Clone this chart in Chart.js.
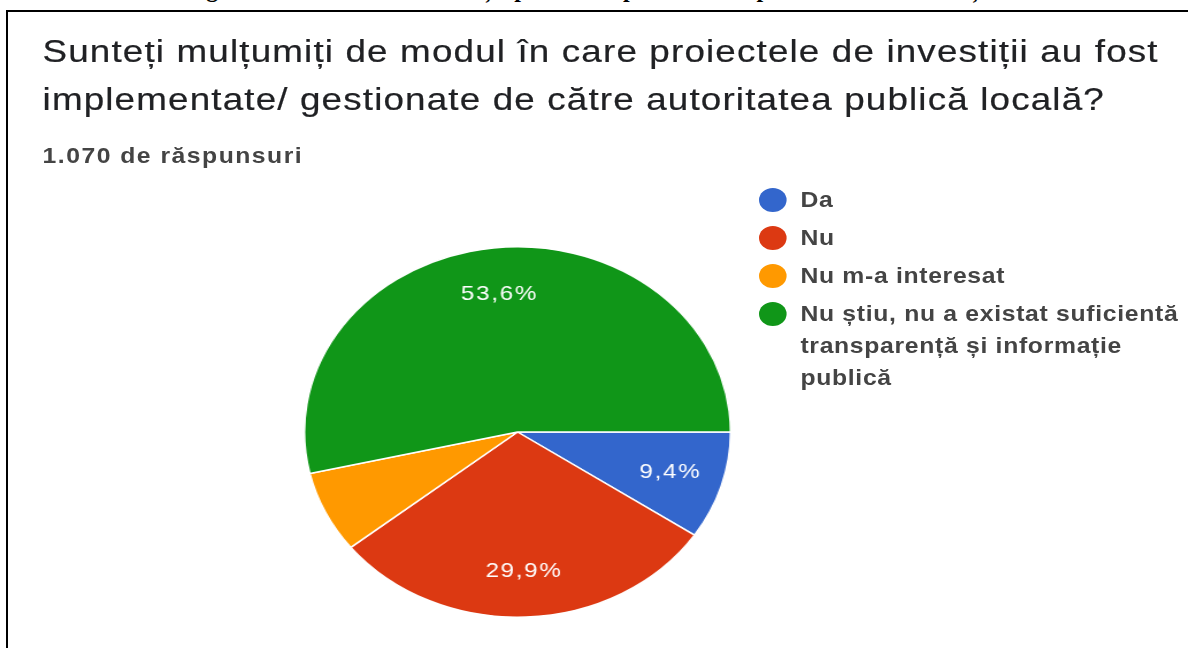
<!DOCTYPE html>
<html lang="ro">
<head>
<meta charset="utf-8">
<script src="https://cdn.jsdelivr.net/npm/chart.js@4.4.1/dist/chart.umd.min.js"></script>
<style>
html, body { margin:0; padding:0; background:#fff; width:1188px; height:648px; overflow:hidden; }
#antet { position:absolute; left:0; top:0; width:1188px; height:9px; overflow:hidden; }
#antet span { position:absolute; left:185px; top:-24px; font:bold 24px "Liberation Serif", serif; color:#000; white-space:nowrap; }
#cadru { position:absolute; left:6px; top:10px; width:1300px; height:700px; border-left:2px solid #000; border-top:2px solid #000; }
/* tot cardul este intins pe orizontala */
#continut { position:absolute; left:0; top:0; width:1033px; height:648px; transform:scaleX(1.15); transform-origin:0 0; font-family:"Liberation Sans", Arial, sans-serif; }
#titlu { position:absolute; left:37px; top:27px; width:1000px; font-size:32px; line-height:48px; letter-spacing:1px; color:#202124; -webkit-text-stroke:0.2px #202124; }
#raspunsuri { position:absolute; left:37px; top:146px; font-size:21.5px; line-height:20px; font-weight:bold; letter-spacing:1.3px; color:#444; }
#zona-grafic { position:absolute; left:264px; top:246px; width:372px; height:372px; }
#legenda { position:absolute; left:660px; top:184px; margin:0; padding:0; list-style:none; font-size:21.5px; line-height:32px; font-weight:bold; letter-spacing:0.6px; color:#444; }
#legenda li { display:flex; align-items:flex-start; margin-bottom:6px; }
#legenda .punct { flex:none; width:24px; height:24px; border-radius:50%; margin-top:4px; margin-right:12px; }
#legenda .text { width:345px; }
</style>
</head>
<body>
<div id="antet"><span>Figura 18. Gradul de satisfacție privind implementarea proiectelor de investiții</span></div>
<div id="cadru"></div>
<div id="continut">
  <div id="titlu">Sunteți mulțumiți de modul în care proiectele de investiții au fost implementate/ gestionate de către autoritatea publică locală?</div>
  <div id="raspunsuri">1.070 de răspunsuri</div>
  <div id="zona-grafic"><canvas id="grafica-placinta"></canvas></div>
  <ul id="legenda"></ul>
</div>
<script>
const categorii = ['Da', 'Nu', 'Nu m-a interesat', 'Nu știu, nu a existat suficientă transparență și informație publică'];
const procente = [9.4, 29.9, 7.1, 53.6];
const culori = ['#3366cc', '#dc3912', '#ff9900', '#109618'];

// etichetele cu procent, scrise in interiorul feliilor mari
const eticheteProcent = {
    id: 'eticheteProcent',
    afterDatasetsDraw(chart) {
        const ctx = chart.ctx;
        const valori = chart.data.datasets[0].data;
        const total = valori.reduce((a, b) => a + b, 0);
        chart.getDatasetMeta(0).data.forEach((arc, i) => {
            const p = valori[i] * 100 / total;
            if (p < 8) return;
            const props = arc.getProps(['x', 'y', 'startAngle', 'endAngle', 'outerRadius']);
            const unghi = (props.startAngle + props.endAngle) / 2;
            const r = props.outerRadius * 0.75;
            ctx.save();
            ctx.fillStyle = '#fff';
            ctx.font = '21px "Liberation Sans", Arial, sans-serif';
            ctx.letterSpacing = '1.5px';
            ctx.textAlign = 'center';
            ctx.textBaseline = 'middle';
            ctx.fillText(p.toFixed(1).replace('.', ',') + '%', props.x + Math.cos(unghi) * r, props.y + Math.sin(unghi) * r);
            ctx.restore();
        });
    }
};

var ctx = document.getElementById('grafica-placinta').getContext('2d');
var myChart = new Chart(ctx, {
    type: 'pie',
    data: {
        labels: categorii,
        datasets: [{
            data: procente,
            backgroundColor: culori,
            borderColor: '#fff',
            borderWidth: 1.5
        }]
    },
    options: {
        responsive: true,
        maintainAspectRatio: false,
        animation: false,
        rotation: 90,
        layout: { padding: 0 },
        plugins: {
            legend: { display: false },
            tooltip: { enabled: false }
        }
    },
    plugins: [eticheteProcent]
});

// legenda in HTML, ca sa se poata rupe textul lung pe mai multe randuri
var legenda = document.getElementById('legenda');
for (var i = 0; i < categorii.length; i++) {
    var li = document.createElement('li');
    var punct = document.createElement('span');
    punct.className = 'punct';
    punct.style.background = culori[i];
    var text = document.createElement('span');
    text.className = 'text';
    text.textContent = categorii[i];
    li.appendChild(punct);
    li.appendChild(text);
    legenda.appendChild(li);
}
</script>
</body>
</html>
